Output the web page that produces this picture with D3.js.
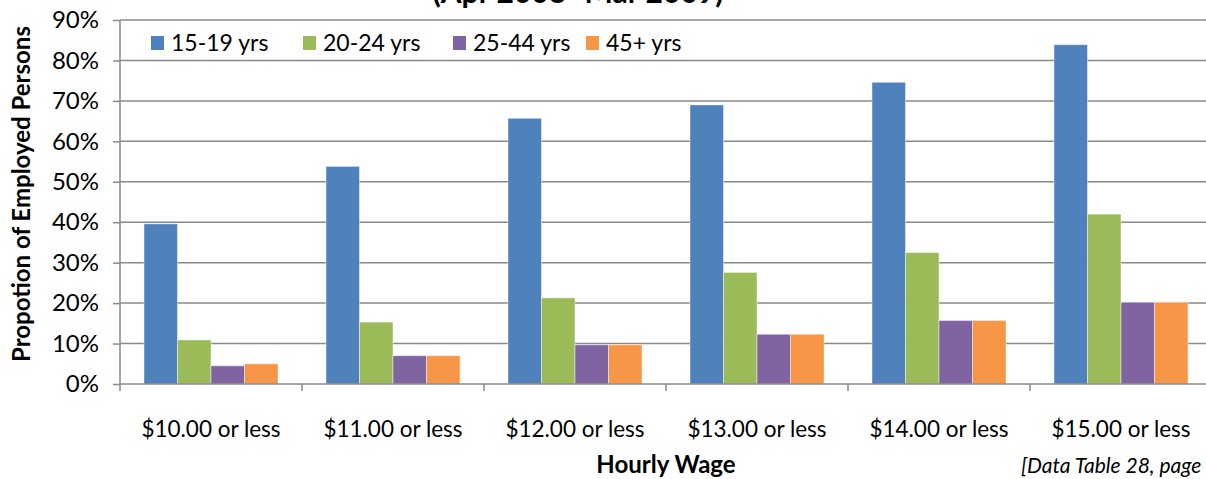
<!DOCTYPE html>
<html>
<head>
<meta charset="utf-8">
<script src="https://cdn.jsdelivr.net/npm/d3@7"></script>
<style>
  body { margin: 0; background: #fff; }
  svg { display: block; font-family: Lato, "Open Sans", sans-serif; }
</style>
</head>
<body>
<div id="chart"></div>
<script>
const categories = ["$10.00 or less", "$11.00 or less", "$12.00 or less", "$13.00 or less", "$14.00 or less", "$15.00 or less"];
const seriesNames = ["15-19 yrs", "20-24 yrs", "25-44 yrs", "45+ yrs"];
const age15to19 = [0.396, 0.538, 0.657, 0.690, 0.746, 0.839];
const age20to24 = [0.109, 0.153, 0.213, 0.276, 0.325, 0.420];
const age25to44 = [0.045, 0.070, 0.097, 0.123, 0.157, 0.202];
const age45plus = [0.050, 0.070, 0.097, 0.123, 0.157, 0.202];
const yTicks = [0, 0.1, 0.2, 0.3, 0.4, 0.5, 0.6, 0.7, 0.8, 0.9];
const colors = ["#4F81BD", "#9BBB59", "#8064A2", "#F79646"];

const width = 1206;
const height = 479;
const marginTop = 20;
const marginLeft = 120;
const plotBottom = 384;
const plotRight = 1212;

const allSeries = [age15to19, age20to24, age25to44, age45plus];
const data = categories.map((c, i) => ({
    category: c,
    values: seriesNames.map((s, j) => ({ series: s, value: allSeries[j][i] }))
}));

const x = d3.scaleBand()
    .domain(categories)
    .range([marginLeft, plotRight]);
const xSub = d3.scaleBand()
    .domain(seriesNames)
    .range([0, x.bandwidth()])
    .paddingOuter(0.716);
const y = d3.scaleLinear()
    .domain([0, 0.9])
    .range([plotBottom, marginTop]);
const color = d3.scaleOrdinal().domain(seriesNames).range(colors);

const svg = d3.select("#chart")
    .append("svg")
        .attr("width", width)
        .attr("height", height);

// title (cut off at the top in the original)
svg.append("text")
    .attr("x", 578)
    .attr("y", 3)
    .attr("text-anchor", "middle")
    .attr("font-size", 30)
    .attr("font-weight", "bold")
    .text("(Apr 2008- Mar 2009)");

// gridlines
svg.append("g")
    .selectAll("line")
    .data(yTicks.slice(1))
    .join("line")
        .attr("x1", marginLeft)
        .attr("x2", width)
        .attr("y1", d => y(d))
        .attr("y2", d => y(d))
        .attr("stroke", "#8a8a8a")
        .attr("stroke-width", 1.5);

// bars
svg.append("g")
    .selectAll("g")
    .data(data)
    .join("g")
        .attr("transform", d => `translate(${x(d.category)},0)`)
    .selectAll("rect")
    .data(d => d.values)
    .join("rect")
        .attr("x", d => xSub(d.series))
        .attr("y", d => y(d.value))
        .attr("width", xSub.bandwidth())
        .attr("height", d => y(0) - y(d.value))
        .attr("fill", d => color(d.series))
        .attr("stroke", "rgba(255,255,255,0.45)")
        .attr("stroke-width", 1);

// y axis
const yAxis = svg.append("g")
    .attr("transform", `translate(${marginLeft},0)`)
    .call(d3.axisLeft(y)
        .tickValues(yTicks)
        .tickSize(7)
        .tickPadding(14)
        .tickFormat(d3.format(".0%")));
yAxis.selectAll("line, path").attr("stroke", "#8a8a8a").attr("stroke-width", 1.5);
yAxis.select("path").attr("d", `M0,${marginTop}V${plotBottom}`);
yAxis.selectAll("text")
    .attr("font-size", 24)
    .attr("font-family", "Lato, sans-serif")
    .attr("fill", "#000");

// x axis
const xAxis = svg.append("g")
    .attr("transform", `translate(0,${plotBottom})`);
xAxis.append("line")
    .attr("x1", marginLeft)
    .attr("x2", width)
    .attr("stroke", "#8a8a8a")
    .attr("stroke-width", 1.5);
xAxis.selectAll(".tick")
    .data(categories)
    .join("line")
        .attr("class", "tick")
        .attr("x1", d => x(d))
        .attr("x2", d => x(d))
        .attr("y1", 0)
        .attr("y2", 7)
        .attr("stroke", "#8a8a8a")
        .attr("stroke-width", 1.5);
xAxis.selectAll(".label")
    .data(categories)
    .join("text")
        .attr("class", "label")
        .attr("x", d => x(d) + x.bandwidth() / 2)
        .attr("y", 53)
        .attr("text-anchor", "middle")
        .attr("font-size", 22.5)
        .text(d => d);

// axis titles
svg.append("text")
    .attr("transform", `translate(30,194) rotate(-90)`)
    .attr("text-anchor", "middle")
    .attr("font-size", 24)
    .attr("font-weight", "bold")
    .text("Propotion of Employed Persons");

svg.append("text")
    .attr("x", (marginLeft + plotRight) / 2)
    .attr("y", 473)
    .attr("text-anchor", "middle")
    .attr("font-size", 24)
    .attr("font-weight", "bold")
    .text("Hourly Wage");

svg.append("text")
    .attr("x", 1021)
    .attr("y", 473)
    .attr("font-size", 21)
    .attr("font-style", "italic")
    .text("[Data Table 28, page");

// legend
const legendX = [151, 303, 453, 586];
const legend = svg.append("g")
    .selectAll("g")
    .data(seriesNames)
    .join("g")
        .attr("transform", (d, i) => `translate(${legendX[i]},36)`);
legend.append("rect")
    .attr("width", 13)
    .attr("height", 14)
    .attr("fill", d => color(d));
legend.append("text")
    .attr("x", 20)
    .attr("y", 15)
    .attr("font-size", 23)
    .text(d => d);
</script>
</body>
</html>
